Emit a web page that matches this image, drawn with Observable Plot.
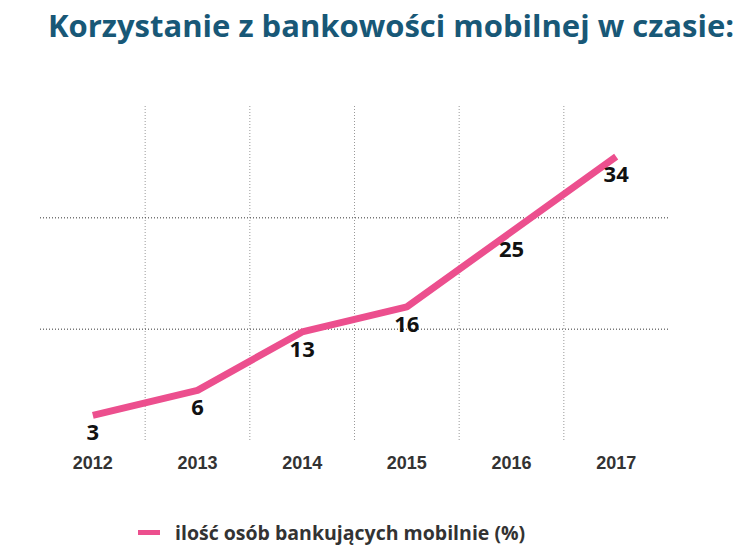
<!DOCTYPE html>
<html>
<head>
<meta charset="utf-8">
<script src="https://cdn.jsdelivr.net/npm/d3@7"></script>
<script src="https://cdn.jsdelivr.net/npm/@observablehq/plot@0.6"></script>
<style>
  html, body { margin: 0; padding: 0; background: #fff; }
  #wrap { position: relative; width: 738px; height: 552px; overflow: hidden; }
  #title { position: absolute; left: 48px; top: 10px; font-family: "Open Sans", sans-serif; font-weight: 700; font-size: 31px; line-height: 30px; color: #185877; white-space: nowrap; letter-spacing: 0px; }
  #chart { position: absolute; left: 0; top: 50px; }
  #legend { position: absolute; left: 138px; top: 518px; height: 28px; display: flex; align-items: center; font-family: "Open Sans", sans-serif; font-weight: 700; font-size: 19.5px; color: #333; white-space: nowrap; }
  #legend .sw { display: inline-block; width: 22px; height: 5px; background: #ec4f8e; margin-right: 15px; }
</style>
</head>
<body>
<div id="wrap">
  <div id="title">Korzystanie z bankowości mobilnej w czasie:</div>
  <div id="chart"></div>
  <div id="legend"><span class="sw"></span><span>ilość osób bankujących mobilnie (%)</span></div>
</div>
<script>
const years = [2012, 2013, 2014, 2015, 2016, 2017];
const values = [3, 6, 13, 16, 25, 34];
const yGrid = [40 / 3, 80 / 3];
const xGrid = years.slice(1).map(y => y - 0.5);

const data = years.map((year, i) => ({ year, value: values[i] }));

const chart = Plot.plot({
  width: 738,
  height: 450,
  marginLeft: 40,
  marginRight: 70,
  marginTop: 56,
  marginBottom: 60,
  style: { background: "transparent" },
  x: { type: "linear", domain: [2011.5, 2017.5] },
  y: { domain: [0, 40] },
  marks: [
    Plot.ruleX(xGrid, { stroke: "#999", strokeWidth: 1, strokeDasharray: "1,2" }),
    Plot.ruleY(yGrid, { stroke: "#333", strokeWidth: 1, strokeDasharray: "1,2" }),
    Plot.axisX({
      ticks: years, tickFormat: d => String(d), tickSize: 0, tickPadding: 16,
      fontSize: 18, fontWeight: "bold", fontFamily: "Liberation Sans, Arial, sans-serif",
      fill: "#333", label: null
    }),
    Plot.axisY({ ticks: [], label: null, tickSize: 0 }),
    Plot.lineY(data, { x: "year", y: "value", stroke: "#ec4f8e", strokeWidth: 7, strokeLinejoin: "round", strokeLinecap: "butt" }),
    Plot.text(data, { x: "year", y: "value", text: d => String(d.value), dy: 18, fontSize: 22, fontWeight: "bold", fontFamily: "Open Sans, sans-serif", fill: "#111" })
  ]
});
document.getElementById("chart").appendChild(chart);
</script>
</body>
</html>
